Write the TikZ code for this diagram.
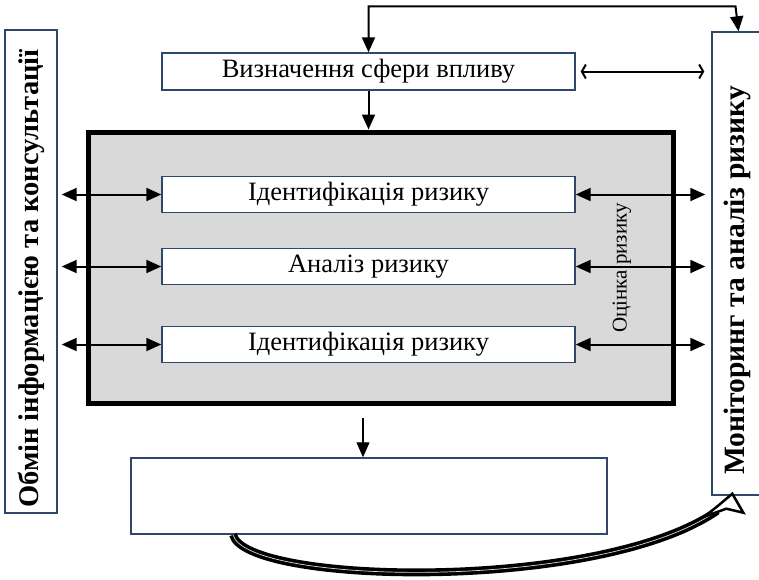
\documentclass[tikz,border=0pt]{standalone}
\usepackage{fontspec}
\setmainfont{Liberation Serif}
\usetikzlibrary{arrows.meta,calc}
\definecolor{boxblue}{RGB}{47,72,105}
\definecolor{shade}{RGB}{217,217,217}
\tikzset{
  blk/.style={draw=boxblue,line width=1.4pt,fill=white,inner sep=0pt,font=\fontsize{26.5}{30}\selectfont},
  side/.style={inner sep=0pt,font=\bfseries\fontsize{28.5}{32}\selectfont},
  arr/.style={-{Triangle[length=15pt,width=13pt]},line width=2pt},
  darr/.style={{Triangle[length=15pt,width=13pt]}-{Triangle[length=15pt,width=13pt]},line width=2pt}
}

\begin{document}
\begin{tikzpicture}[x=1pt,y=-1pt]
  \clip (0,0) rectangle (759,579);
  % side boxes
  \node[blk,minimum width=52pt,minimum height=483pt] (info) at (31,271.5) {};
  \node[side] (infot) at ($(info)+(0,7)$) {\rotatebox{90}{Обмін інформацією та консультації}};
  \node[blk,minimum width=53pt,minimum height=463pt] (mon) at (738.5,263.5) {};
  \node[side,font=\bfseries\fontsize{29.5}{33}\selectfont] (mont) at ($(mon)+(-1,17)$) {\rotatebox{90}{Моніторинг та аналіз ризику}};
  \node[blk,minimum width=413pt,minimum height=37pt] (vplyv) at (368.5,71.5) {Визначення сфери впливу};
  % assessment block
  \node[draw,line width=5pt,fill=shade,minimum width=585pt,minimum height=271pt] (assess) at (380.5,267.5) {};
  \node[font=\fontsize{21}{24}\selectfont] (lab) at (622,268) {\rotatebox{90}{Оцінка ризику}};
  \foreach \n/\y/\t in {id1/194.5/Ідентифікація ризику, an/266.5/Аналіз ризику, id2/344.5/Ідентифікація ризику}{
    \node[blk,minimum width=413pt,minimum height=36pt] (\n) at (368.5,\y) {\t};
    \draw[darr,shorten <=4pt] (info.east |- \n) -- (\n.west);
    \draw[darr,shorten >=6pt] (\n.east) -- (mon.west |- \n);
  }
  \node[blk,minimum width=476pt,minimum height=76pt] (res) at (369,496) {};
  % connectors
  \draw[darr] (vplyv.north) |- ($(mon.north)+(-3,-25)$) -- (mon.north);
  \draw[line width=2pt,{Straight Barb[length=4pt,width=14pt]}-{Straight Barb[length=4pt,width=14pt]},shorten <=5pt,shorten >=7pt]
    (vplyv.east) -- (mon.west |- vplyv);
  \draw[arr] (vplyv.south) -- (vplyv.south |- assess.north);
  \draw[-{Triangle[length=15pt,width=13pt]},line width=1.2pt,shorten <=12pt] (363,0 |- assess.south) -- (363,0 |- res.north);
  % curved return arrow
  \coordinate (tip) at ($(mon.south west)+(6,15)$);
  \draw[line width=3.6pt,double=shade,double distance=0.7pt] (233,0 |- res.south) .. controls +(12,50) and +(-118,82) .. (tip);
  \draw[shift={(tip)},line width=2.5pt,fill=white,line join=miter] (15,-17) -- (26,2) -- (9,-2) -- (-13,6) -- (2,-6) -- cycle;
\end{tikzpicture}
\end{document}
